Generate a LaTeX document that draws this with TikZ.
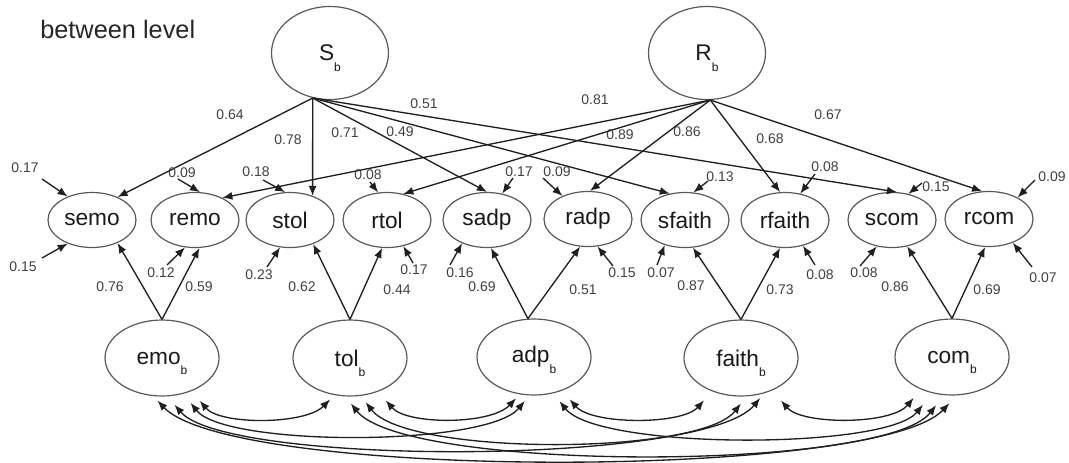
\documentclass[tikz,border=0pt]{standalone}
\usepackage{fontspec}
\setmainfont{Liberation Sans}
\usetikzlibrary{arrows.meta,shapes.geometric}
\newcommand\subb{\raisebox{-8pt}[0pt][0pt]{\fontsize{9}{9}\selectfont b}}
\begin{document}
\begin{tikzpicture}[x=0.75pt,y=0.75pt,
  lat/.style={ellipse, draw=black!65, line width=0.9pt, inner sep=0pt, text=black!90, font=\fontsize{17}{17}\selectfont},
  big/.style={lat, minimum width=87.75pt, minimum height=69.75pt},
  obs/.style={lat, minimum width=66pt, minimum height=41.25pt},
  fac/.style={lat, minimum width=85.5pt, minimum height=57pt},
  num/.style={font=\fontsize{10.5}{10.5}\selectfont, text=black!75, inner sep=0pt},
  path/.style={draw=black!88, line width=1pt, -{Latex[length=7.5pt,width=6pt]}},
  corr/.style={draw=black!88, line width=1pt, {Latex[length=7.5pt,width=6pt]}-{Latex[length=7.5pt,width=6pt]}}
]
\useasboundingbox (0,0) rectangle (1069,-462);

\node[font=\fontsize{19}{19}\selectfont, text=black!85, anchor=base west, inner sep=0pt] (title) at (40,-38) {between level};

% top latents
\node[big] (Sb) at (330,-53) {S\subb};
\node[big] (Rb) at (707,-53) {R\subb};

% indicators
\node[obs] (semo) at (92,-220) {semo};
\node[obs] (remo) at (195,-220) {remo};
\node[obs] (stol) at (290,-220) {stol};
\node[obs] (rtol) at (387,-220) {rtol};
\node[obs] (sadp) at (487,-220) {sadp};
\node[obs] (radp) at (588,-219) {radp};
\node[obs] (sfaith) at (685,-220) {sfaith};
\node[obs] (rfaith) at (785,-220) {rfaith};
\node[obs] (scom) at (892,-220) {scom};
\node[obs] (rcom) at (989,-219) {rcom};

% bottom latents
\node[fac] (emo) at (162,-358) {emo\subb};
\node[fac] (tol) at (350,-358) {tol\subb};
\node[fac] (adp) at (534,-357) {adp\subb};
\node[fac] (faith) at (741,-358) {faith\subb};
\node[fac] (com) at (952,-357) {com\subb};

% top loadings
\draw[path] (Sb.-111) -- (semo.42);
\draw[path] (Sb.-111) -- (stol.47);
\draw[path] (Sb.-111) -- (sadp.90);
\draw[path] (Sb.-111) -- (sfaith.120);
\draw[path] (Sb.-111) -- (scom.80);
\draw[path] (Rb.-86) -- (remo.39);
\draw[path] (Rb.-86) -- (rtol.58);
\draw[path] (Rb.-86) -- (radp.86);
\draw[path] (Rb.-86) -- (rfaith.100);
\draw[path] (Rb.-86) -- (rcom.104);

\node[num] (lSsemo) at (230,-115) {0.64};
\node[num] (lSstol) at (288,-140) {0.78};
\node[num] (lSsadp) at (345,-133) {0.71};
\node[num] (lSsfaith) at (400,-132) {0.49};
\node[num] (lSscom) at (424,-104) {0.51};
\node[num] (lRremo) at (595,-100) {0.81};
\node[num] (lRrtol) at (620,-135) {0.89};
\node[num] (lRradp) at (687,-132) {0.86};
\node[num] (lRrfaith) at (770,-139) {0.68};
\node[num] (lRrcom) at (828,-115) {0.67};

% top residuals
\node[num] (rt1) at (25,-168) {0.17};
\node[num] (rt2) at (182,-173) {0.09};
\node[num] (rt3) at (256,-172) {0.18};
\node[num] (rt4) at (368,-175) {0.08};
\node[num] (rt5) at (519,-172) {0.17};
\node[num] (rt6) at (557,-172) {0.09};
\node[num] (rt7) at (720,-177) {0.13};
\node[num] (rt8) at (825,-167) {0.08};
\node[num] (rt9) at (936,-187) {0.15};
\node[num] (rt10) at (1052,-177) {0.09};
\coordinate (tt1) at (42,-179);
\coordinate (tt2) at (178,-179);
\coordinate (tt3) at (263,-180);
\coordinate (tt4) at (370,-182);
\coordinate (tt5) at (513,-178);
\coordinate (tt6) at (543,-178);
\coordinate (tt7) at (708,-181);
\coordinate (tt8) at (815,-174);
\coordinate (tt9) at (922,-183);
\coordinate (tt10) at (1035,-180);
\draw[path] (tt1) -- (semo.136);
\draw[path] (tt2) -- (remo.80);
\draw[path] (tt3) -- (stol.100);
\draw[path] (tt4) -- (rtol.108);
\draw[path] (tt5) -- (sadp.60);
\draw[path] (tt6) -- (radp.138);
\draw[path] (tt7) -- (sfaith.73);
\draw[path] (tt8) -- (rfaith.60);
\draw[path] (tt9) -- (scom.58);
\draw[path] (tt10) -- (rcom.37);

% bottom residuals
\node[num] (rb1) at (23,-267) {0.15};
\node[num] (rb2) at (161,-273) {0.12};
\node[num] (rb3) at (259,-275) {0.23};
\node[num] (rb4) at (414,-270) {0.17};
\node[num] (rb5) at (460,-273) {0.16};
\node[num] (rb6) at (622,-273) {0.15};
\node[num] (rb7) at (661,-273) {0.07};
\node[num] (rb8) at (820,-275) {0.08};
\node[num] (rb9) at (864,-273) {0.08};
\node[num] (rb10) at (1043,-278) {0.07};
\coordinate (tb1) at (42,-258);
\coordinate (tb2) at (167,-265);
\coordinate (tb3) at (267,-267);
\coordinate (tb4) at (413,-263);
\coordinate (tb5) at (450,-265);
\coordinate (tb6) at (613,-266);
\coordinate (tb7) at (657,-265);
\coordinate (tb8) at (815,-265);
\coordinate (tb9) at (860,-266);
\coordinate (tb10) at (1032,-267);
\draw[path] (tb1) -- (semo.-136);
\draw[path] (tb2) -- (remo.-110);
\draw[path] (tb3) -- (stol.-110);
\draw[path] (tb4) -- (rtol.-58);
\draw[path] (tb5) -- (sadp.-137);
\draw[path] (tb6) -- (radp.-71);
\draw[path] (tb7) -- (sfaith.-129);
\draw[path] (tb8) -- (rfaith.-55);
\draw[path] (tb9) -- (scom.-120);
\draw[path] (tb10) -- (rcom.-45);

% bottom loadings
\draw[path] (emo.north) -- (semo.-42);
\draw[path] (emo.north) -- (remo.-81);
\draw[path] (tol.north) -- (stol.-46);
\draw[path] (tol.north) -- (rtol.-100);
\draw[path] (adp.99) -- (sadp.-82);
\draw[path] (adp.99) -- (radp.-106);
\draw[path] (faith.north) -- (sfaith.-74);
\draw[path] (faith.north) -- (rfaith.-100);
\draw[path] (com.north) -- (scom.-60);
\draw[path] (com.north) -- (rcom.-98);

\node[num] (lb1) at (110,-287) {0.76};
\node[num] (lb2) at (199,-287) {0.59};
\node[num] (lb3) at (302,-287) {0.62};
\node[num] (lb4) at (397,-290) {0.44};
\node[num] (lb5) at (482,-287) {0.69};
\node[num] (lb6) at (583,-290) {0.51};
\node[num] (lb7) at (691,-286) {0.87};
\node[num] (lb8) at (780,-290) {0.73};
\node[num] (lb9) at (895,-287) {0.86};
\node[num] (lb10) at (987,-290) {0.69};

% correlations
\draw[corr, shorten <=9.5pt, shorten >=4.5pt] (emo.-48) .. controls (220,-425) and (305,-425) .. (tol.-113);
\draw[corr, shorten <=8.7pt, shorten >=4pt] (tol.-50) .. controls (407,-425) and (491,-425) .. (adp.-111);
\draw[corr, shorten <=8.6pt, shorten >=9pt] (adp.-50) .. controls (592,-425) and (682,-425) .. (faith.-131);
\draw[corr, shorten <=10pt, shorten >=8.3pt] (faith.-46) .. controls (802,-425) and (891,-425) .. (com.-134);
\draw[corr, shorten <=8.6pt, shorten >=5.3pt] (emo.-59) .. controls (225,-447) and (487,-447) .. (adp.-97);
\draw[corr, shorten <=6pt, shorten >=6.8pt] (tol.-74) .. controls (407,-456) and (700,-456) .. (faith.-82);
\draw[corr, shorten <=7.5pt, shorten >=11pt] (adp.-62) .. controls (598,-450) and (887,-450) .. (com.-119);
\draw[corr, shorten <=8.3pt, shorten >=4.5pt] (emo.-82) .. controls (227,-466) and (704,-466) .. (faith.-57);
\draw[corr, shorten <=6.8pt, shorten >=9.5pt] (tol.-97) .. controls (405,-472) and (884,-472) .. (com.-102);
\draw[corr, shorten <=4.7pt, shorten >=8pt] (emo.-103) .. controls (233,-480) and (877,-480) .. (com.-83);
\end{tikzpicture}
\end{document}
